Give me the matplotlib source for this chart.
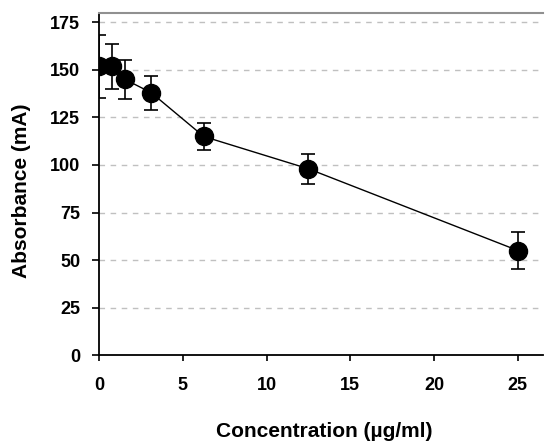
import matplotlib
matplotlib.use("Agg")
import matplotlib.pyplot as plt

conc = [0, 0.78, 1.56, 3.125, 6.25, 12.5, 25]
absorb = [152, 152, 145, 138, 115, 98, 55]
err = [16.5, 11.8, 10.5, 8.8, 7.0, 7.8, 9.6]
xticks = [0, 5, 10, 15, 20, 25]
yticks = [0, 25, 50, 75, 100, 125, 150, 175]

plt.rcParams['font.family'] = ['Liberation Sans', 'DejaVu Sans']
fig = plt.figure(figsize=(5.45, 4.43), dpi=100)
ax = fig.add_axes([0.1817, 0.1986, 0.8146, 0.7721])

for y in yticks[1:]:
    ax.axhline(y, color='#c0c0c0', lw=1.0, ls=(0, (4, 4)), zorder=0)

ax.errorbar(conc, absorb, yerr=err, fmt='-o', color='black', lw=1.0,
            ms=13, capsize=5, elinewidth=1.2, capthick=1.2, zorder=3)

ax.set_xlim(0, 26.5)
ax.set_ylim(0, 180)
ax.set_xticks(xticks)
ax.set_yticks(yticks)
ax.set_xticklabels([str(t) for t in xticks], fontsize=13, fontweight='bold')
ax.set_yticklabels([str(t) for t in yticks], fontsize=13, fontweight='bold')
ax.tick_params(axis='y', direction='out', length=5, width=1.2, pad=8.5)
ax.tick_params(axis='x', direction='out', length=4.5, width=1.2, pad=11.5)

ax.spines['right'].set_visible(False)
ax.spines['top'].set_color('#909090')
ax.spines['top'].set_linewidth(1.5)
ax.spines['left'].set_linewidth(1.3)
ax.spines['bottom'].set_linewidth(1.3)

ax.set_xlabel('Concentration (\u00b5g/ml)', fontsize=15, fontweight='bold')
ax.set_ylabel('Absorbance (mA)', fontsize=15, fontweight='bold')
ax.xaxis.set_label_coords((324 - 99) / 444, -(431 - 355) / 342, transform=ax.transAxes)
ax.yaxis.set_label_coords(-(99 - 21) / 444, (355 - 191) / 342, transform=ax.transAxes)
ax.xaxis.label.set_va('center')
ax.yaxis.label.set_va('center')

fig.savefig('out.png', dpi=100)
